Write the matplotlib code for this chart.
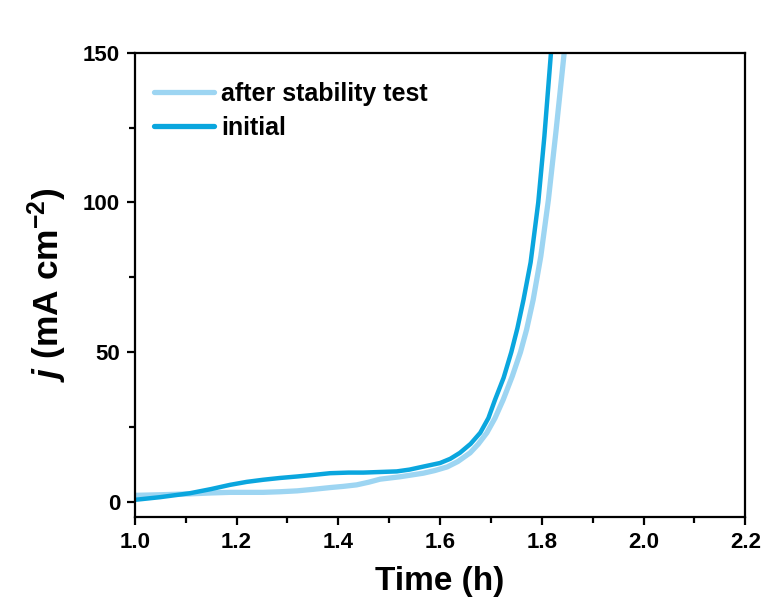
import numpy as np
import matplotlib
matplotlib.use("Agg")
import matplotlib.pyplot as plt
from matplotlib.ticker import MultipleLocator

plt.rcParams["font.family"] = ["Liberation Sans", "DejaVu Sans"]
plt.rcParams["font.weight"] = "bold"
plt.rcParams["mathtext.fontset"] = "custom"
plt.rcParams["mathtext.rm"] = "Liberation Sans:bold"
plt.rcParams["mathtext.bf"] = "Liberation Sans:bold"
plt.rcParams["mathtext.it"] = "Liberation Sans:italic:bold"
plt.rcParams["mathtext.bfit"] = "Liberation Sans:italic:bold"

# --- data ---
t_initial = [1.00, 1.05, 1.108, 1.15, 1.187, 1.22, 1.252, 1.285, 1.319, 1.35, 1.384,
             1.42, 1.449, 1.482, 1.515, 1.54, 1.567, 1.60, 1.62, 1.639, 1.66, 1.679,
             1.695, 1.708, 1.725, 1.74, 1.752, 1.764, 1.778, 1.793, 1.805, 1.818]
j_initial = [0.7, 1.6, 2.9, 4.3, 5.7, 6.7, 7.4, 8.0, 8.5, 9.0, 9.6, 9.8, 9.8, 10.0, 10.2,
             10.8, 11.8, 13.0, 14.4, 16.4, 19.4, 23.1, 28.0, 34.1, 41.5, 50.0, 58.0,
             67.5, 80.0, 100.0, 122.0, 150.0]

t_after = [1.00, 1.05, 1.108, 1.15, 1.187, 1.22, 1.252, 1.285, 1.319, 1.35, 1.384,
           1.41, 1.436, 1.46, 1.482, 1.521, 1.567, 1.59, 1.614, 1.635, 1.659, 1.675,
           1.692, 1.708, 1.724, 1.742, 1.758, 1.770, 1.783, 1.798, 1.813, 1.828, 1.844]
j_after = [2.2, 2.4, 2.7, 3.0, 3.2, 3.2, 3.2, 3.4, 3.7, 4.2, 4.8, 5.2, 5.7, 6.6, 7.6,
           8.4, 9.6, 10.5, 11.7, 13.5, 16.4, 19.3, 23.1, 28.0, 34.1, 42.0, 50.0,
           57.5, 67.5, 82.0, 101.0, 124.0, 150.0]

x_ticks = [1.0, 1.2, 1.4, 1.6, 1.8, 2.0, 2.2]
x_ticklabels = ["1.0", "1.2", "1.4", "1.6", "1.8", "2.0", "2.2"]
labels = ["after stability test", "initial"]
colors = ["#9DD5F2", "#0AA6DE"]

fig = plt.figure(figsize=(7.66, 6.06), dpi=100)
ax = fig.add_axes([0.176, 0.147, 0.797, 0.766])

ax.plot(t_after, j_after, color=colors[0], lw=3.8, label=labels[0], solid_capstyle="round")
ax.plot(t_initial, j_initial, color=colors[1], lw=3.2, label=labels[1], solid_capstyle="round")

ax.set_xlim(1.0, 2.2)
ax.set_ylim(-5, 150)
ax.set_xticks(x_ticks)
ax.set_xticklabels(x_ticklabels)
ax.xaxis.set_minor_locator(MultipleLocator(0.1))
ax.yaxis.set_major_locator(MultipleLocator(50))
ax.yaxis.set_minor_locator(MultipleLocator(25))

for s in ax.spines.values():
    s.set_linewidth(1.6)
ax.tick_params(which="major", direction="out", length=6, width=1.6, labelsize=16, pad=4.5)
ax.tick_params(which="minor", direction="out", length=4, width=1.6)
ax.tick_params(top=False, right=False, which="both")

ax.set_xlabel("Time (h)", fontsize=24, fontweight="bold", labelpad=10)
ax.set_ylabel(r"$\mathbfit{j}$ (mA cm$^{-2}$)", fontsize=25.5, fontweight="bold", labelpad=10)

leg = ax.legend(loc="upper left", frameon=False, fontsize=18, handlelength=2.4,
                handletextpad=0.3, labelspacing=0.38, borderaxespad=0,
                bbox_to_anchor=(0.015, 0.958))
for line in leg.get_lines():
    line.set_linewidth(3.8)

fig.savefig("out.png", dpi=100)
